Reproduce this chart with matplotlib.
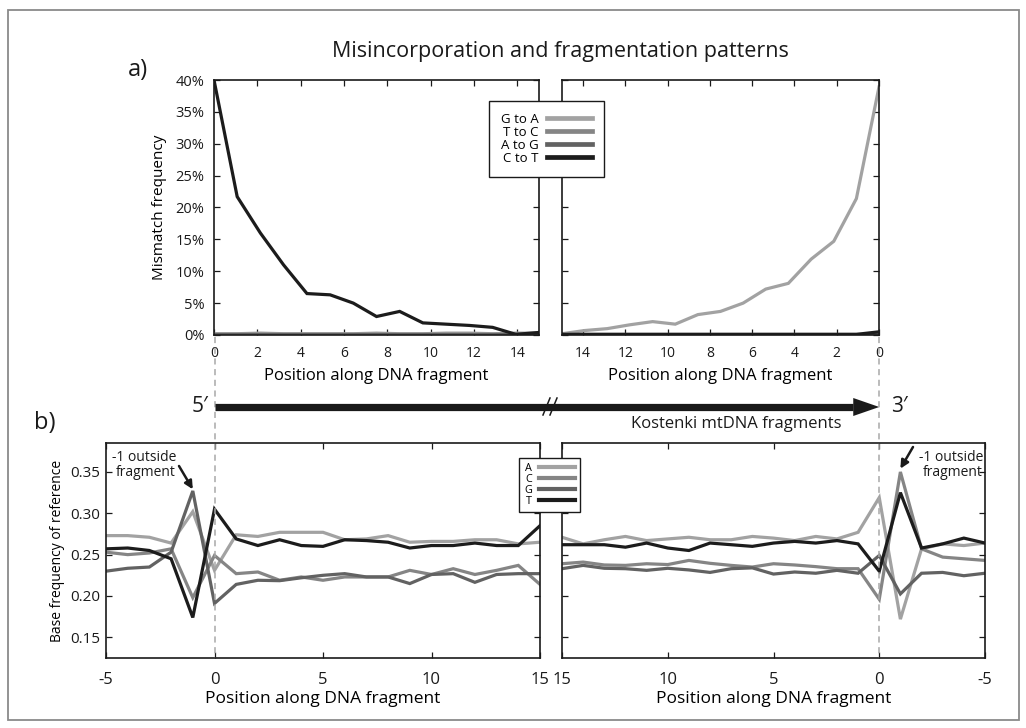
import matplotlib
matplotlib.use('Agg')
import matplotlib.pyplot as plt
from matplotlib.lines import Line2D
from matplotlib.patches import Rectangle, Polygon
from matplotlib.ticker import FuncFormatter, FixedLocator

plt.rcParams['font.family'] = ['Open Sans', 'DejaVu Sans']
plt.rcParams['axes.unicode_minus'] = False

# ---------------- data ----------------
# panel a) positions (15 points spread over the 0..15 axis)
top_pos = [0, 1.07, 2.14, 3.21, 4.29, 5.36, 6.43, 7.5, 8.57, 9.64, 10.71, 11.79, 12.86, 13.93, 15]
mis_labels = ['G to A', 'T to C', 'A to G', 'C to T']
# 5' end mismatch frequencies (%)
five_GtoA = [0.2, 0.2, 0.3, 0.2, 0.2, 0.2, 0.2, 0.3, 0.2, 0.2, 0.3, 0.3, 0.2, 0.3, 0.3]
five_TtoC = [0.1, 0.1, 0.1, 0.1, 0.1, 0.1, 0.1, 0.1, 0.1, 0.1, 0.1, 0.1, 0.1, 0.1, 0.2]
five_AtoG = [0.1, 0.1, 0.1, 0.1, 0.1, 0.1, 0.1, 0.1, 0.1, 0.1, 0.1, 0.1, 0.1, 0.1, 0.1]
five_CtoT = [40.0, 21.7, 16.0, 11.0, 6.5, 6.3, 5.0, 2.9, 3.7, 1.9, 1.7, 1.5, 1.2, 0.1, 0.4]
# 3' end mismatch frequencies (%), position 0 first
three_GtoA = [38.9, 21.4, 14.7, 11.9, 8.1, 7.2, 5.0, 3.7, 3.2, 1.7, 2.1, 1.6, 1.0, 0.7, 0.2]
three_TtoC = [0.1, 0.1, 0.1, 0.1, 0.1, 0.1, 0.1, 0.1, 0.1, 0.1, 0.1, 0.1, 0.1, 0.1, 0.1]
three_AtoG = [0.1, 0.1, 0.1, 0.1, 0.1, 0.1, 0.1, 0.1, 0.1, 0.1, 0.1, 0.1, 0.1, 0.1, 0.1]
three_CtoT = [0.5, 0.1, 0.1, 0.1, 0.1, 0.1, 0.1, 0.1, 0.1, 0.1, 0.1, 0.1, 0.1, 0.1, 0.1]

# panel b) base composition
base_pos = [-5, -4, -3, -2, -1, 0, 1, 2, 3, 4, 5, 6, 7, 8, 9, 10, 11, 12, 13, 14, 15]
base_labels = ['A', 'C', 'G', 'T']
five_A = [0.273, 0.273, 0.271, 0.264, 0.302, 0.231, 0.274, 0.272, 0.277, 0.277, 0.277,
          0.268, 0.269, 0.273, 0.265, 0.266, 0.266, 0.268, 0.268, 0.263, 0.265]
five_C = [0.253, 0.250, 0.252, 0.257, 0.198, 0.249, 0.227, 0.229, 0.219, 0.223, 0.219,
          0.223, 0.223, 0.223, 0.231, 0.226, 0.233, 0.226, 0.231, 0.237, 0.214]
five_G = [0.230, 0.2335, 0.235, 0.253, 0.327, 0.191, 0.214, 0.219, 0.2185, 0.222, 0.225,
          0.227, 0.223, 0.223, 0.215, 0.226, 0.227, 0.2165, 0.226, 0.227, 0.227]
five_T = [0.257, 0.258, 0.255, 0.245, 0.174, 0.305, 0.269, 0.261, 0.268, 0.261, 0.260,
          0.268, 0.267, 0.265, 0.258, 0.261, 0.261, 0.264, 0.261, 0.261, 0.285]
three_A = [0.264, 0.261, 0.263, 0.257, 0.172, 0.319, 0.277, 0.269, 0.272, 0.267, 0.270,
           0.272, 0.268, 0.268, 0.271, 0.269, 0.267, 0.272, 0.268, 0.263, 0.271]
three_C = [0.243, 0.245, 0.247, 0.257, 0.350, 0.196, 0.233, 0.233, 0.2355, 0.2375, 0.239,
           0.235, 0.237, 0.2395, 0.243, 0.238, 0.239, 0.237, 0.2375, 0.241, 0.239]
three_G = [0.2275, 0.2245, 0.2285, 0.2275, 0.2025, 0.249, 0.2275, 0.231, 0.2275, 0.229, 0.2265,
           0.234, 0.233, 0.2285, 0.2315, 0.2335, 0.231, 0.233, 0.2335, 0.237, 0.233]
three_T = [0.264, 0.270, 0.263, 0.258, 0.325, 0.230, 0.263, 0.267, 0.264, 0.266, 0.264,
           0.260, 0.262, 0.264, 0.255, 0.258, 0.264, 0.259, 0.262, 0.262, 0.262]

top_xticks = [0, 2, 4, 6, 8, 10, 12, 14]
top_yticks = [0, 0.05, 0.10, 0.15, 0.20, 0.25, 0.30, 0.35, 0.40]
bot_xticks = [-5, 0, 5, 10, 15]
bot_yticks = [0.15, 0.20, 0.25, 0.30, 0.35]

colors = ['#a2a2a2', '#858585', '#626262', '#1c1c1c']

# ---------------- figure ----------------
W, H = 1026, 728
fig = plt.figure(figsize=(W / 100, H / 100), dpi=100)

def fx(px):
    return px / W

def fy(py):
    return 1 - py / H

def axrect(x0, y0, x1, y1):
    return [fx(x0), fy(y1), fx(x1) - fx(x0), fy(y0) - fy(y1)]

ax_a1 = fig.add_axes(axrect(214, 80, 539, 335))
ax_a2 = fig.add_axes(axrect(562, 80, 879, 335))
ax_b1 = fig.add_axes(axrect(106, 443, 540, 658))
ax_b2 = fig.add_axes(axrect(562, 443, 985, 658))

def style(ax):
    for s in ax.spines.values():
        s.set_linewidth(1.2)
        s.set_color('#1a1a1a')
    ax.tick_params(direction='in', length=4, width=0.9, top=True, right=True,
                   colors='#1a1a1a')

# panel a
five_mis = [five_GtoA, five_TtoC, five_AtoG, five_CtoT]
three_mis = [three_GtoA, three_TtoC, three_AtoG, three_CtoT]
handles = []
for vals, c, lab in zip(five_mis, colors, mis_labels):
    h, = ax_a1.plot(top_pos, [v / 100 for v in vals], color=c, lw=2.3, label=lab,
                    solid_joinstyle='miter')
    handles.append(h)
for vals, c in zip(three_mis, colors):
    ax_a2.plot(top_pos, [v / 100 for v in vals], color=c, lw=2.3, solid_joinstyle='miter')

for ax in (ax_a1, ax_a2):
    style(ax)
    ax.set_ylim(0, 0.40)
    ax.yaxis.set_major_locator(FixedLocator(top_yticks))
    ax.xaxis.set_major_locator(FixedLocator(top_xticks))
    ax.tick_params(axis='x', labelsize=10, pad=8)
    ax.set_xlabel('Position along DNA fragment', fontsize=12, labelpad=5)
ax_a1.set_xlim(0, 15)
ax_a2.set_xlim(15, 0)
ax_a1.yaxis.set_major_formatter(FuncFormatter(lambda v, p: f'{v * 100:.0f}%'))
ax_a1.tick_params(axis='y', labelsize=10.5, pad=7)
ax_a2.tick_params(axis='y', labelleft=False)
ax_a1.set_ylabel('Mismatch frequency', fontsize=11, labelpad=6)

# panel b
five_base = [five_A, five_C, five_G, five_T]
three_base = [three_A, three_C, three_G, three_T]
bhandles = []
for vals, c, lab in zip(five_base, colors, base_labels):
    h, = ax_b1.plot(base_pos, vals, color=c, lw=2.3, label=lab, solid_joinstyle='miter')
    bhandles.append(h)
for vals, c in zip(three_base, colors):
    ax_b2.plot(base_pos, vals, color=c, lw=2.3, solid_joinstyle='miter')

for ax in (ax_b1, ax_b2):
    style(ax)
    ax.set_ylim(0.125, 0.385)
    ax.yaxis.set_major_locator(FixedLocator(bot_yticks))
    ax.xaxis.set_major_locator(FixedLocator(bot_xticks))
    ax.tick_params(axis='x', labelsize=12, pad=10)
    ax.set_xlabel('Position along DNA fragment', fontsize=12.5, labelpad=2)
ax_b1.set_xlim(-5, 15)
ax_b2.set_xlim(15, -5)
ax_b1.yaxis.set_major_formatter(FuncFormatter(lambda v, p: f'{v:.2f}'))
ax_b1.tick_params(axis='y', labelsize=11, pad=4)
ax_b2.tick_params(axis='y', labelleft=False)
ax_b1.set_ylabel('Base frequency of reference', fontsize=10, labelpad=4)

# legends
leg1 = fig.legend(handles, mis_labels, loc='center', bbox_to_anchor=(fx(546.5), fy(139)),
                  markerfirst=False, fontsize=9.5, handlelength=3.4, handletextpad=0.6,
                  labelspacing=0.0, borderpad=0.9, fancybox=False, framealpha=1,
                  edgecolor='#1a1a1a')
leg1.get_frame().set_linewidth(1.0)
for l in leg1.get_lines():
    l.set_linewidth(3.4)
leg2 = fig.legend(bhandles, base_labels, loc='center', bbox_to_anchor=(fx(549.5), fy(485)),
                  markerfirst=False, fontsize=7.8, handlelength=3.3, handletextpad=0.6,
                  labelspacing=0.0, borderpad=0.5, fancybox=False, framealpha=1,
                  edgecolor='#1a1a1a')
leg2.get_frame().set_linewidth(1.0)
for l in leg2.get_lines():
    l.set_linewidth(3.0)

# titles and labels
fig.text(fx(560), fy(52), 'Misincorporation and fragmentation patterns', ha='center',
         va='center', fontsize=15.5, color='#1a1a1a')
fig.text(fx(138), fy(70), 'a)', ha='center', va='center', fontsize=17, color='#1a1a1a')
fig.text(fx(45), fy(423), 'b)', ha='center', va='center', fontsize=17, color='#1a1a1a')

# dashed guide lines at position 0 of each end
inv = fig.transFigure.inverted()
x5 = inv.transform(ax_b1.transData.transform((0, 0.2)))[0]
x3 = inv.transform(ax_b2.transData.transform((0, 0.2)))[0]
for xx in (x5, x3):
    fig.add_artist(Line2D([xx, xx], [fy(337), fy(658)], color='#a8a8a8', lw=1.1,
                          linestyle=(0, (4, 3))))

# fragment arrow
ya = fy(407)
head = 26 / W
fig.add_artist(Line2D([x5, x3 - head], [ya, ya], color='#1a1a1a', lw=5.2,
                      solid_capstyle='butt'))
fig.add_artist(Polygon([[x3 - head, ya + 9 / H], [x3, ya], [x3 - head, ya - 9 / H]],
                       closed=True, color='#1a1a1a', lw=0))
# break marks
fig.add_artist(Polygon([[fx(545), fy(414)], [fx(551), fy(414)], [fx(556), fy(400)],
                        [fx(550), fy(400)]], closed=True, color='white', lw=0))
fig.add_artist(Line2D([fx(543), fx(550)], [fy(415), fy(398)], color='#1a1a1a', lw=1.1))
fig.add_artist(Line2D([fx(550), fx(557)], [fy(415), fy(398)], color='#1a1a1a', lw=1.1))
fig.text(fx(208), ya, '5\u2032', ha='right', va='center', fontsize=15, color='#1a1a1a')
fig.text(fx(891), ya, '3\u2032', ha='left', va='center', fontsize=15, color='#1a1a1a')
fig.text(fx(736), fy(424), 'Kostenki mtDNA fragments', ha='center', va='center',
         fontsize=12, color='#1a1a1a')

# annotations of the -1 position
i_m1 = base_pos.index(-1)
ax_b1.annotate('', xy=(base_pos[i_m1], five_G[i_m1] + 0.002),
               xytext=(fig.transFigure.transform((fx(179), fy(466)))),
               textcoords='figure pixels',
               arrowprops=dict(arrowstyle='-|>', color='#1a1a1a', lw=1.8,
                               mutation_scale=12, shrinkA=0, shrinkB=0))
fig.text(fx(176), fy(465), '-1 outside\nfragment', ha='right', va='center',
         fontsize=10, linespacing=0.95, color='#1a1a1a')
ax_b2.annotate('', xy=(base_pos[i_m1], three_C[i_m1] + 0.004),
               xytext=(fig.transFigure.transform((fx(913), fy(447)))),
               textcoords='figure pixels',
               arrowprops=dict(arrowstyle='-|>', color='#1a1a1a', lw=1.8,
                               mutation_scale=12, shrinkA=0, shrinkB=0))
fig.text(fx(983), fy(465), '-1 outside\nfragment', ha='right', va='center',
         fontsize=10, linespacing=0.95, color='#1a1a1a')

# outer frame
fig.add_artist(Rectangle((fx(8), fy(720)), fx(1019) - fx(8), fy(10) - fy(720),
                         fill=False, edgecolor='#8a8a8a', lw=1.3,
                         transform=fig.transFigure))

fig.savefig('out.png', dpi=100, facecolor='white')
